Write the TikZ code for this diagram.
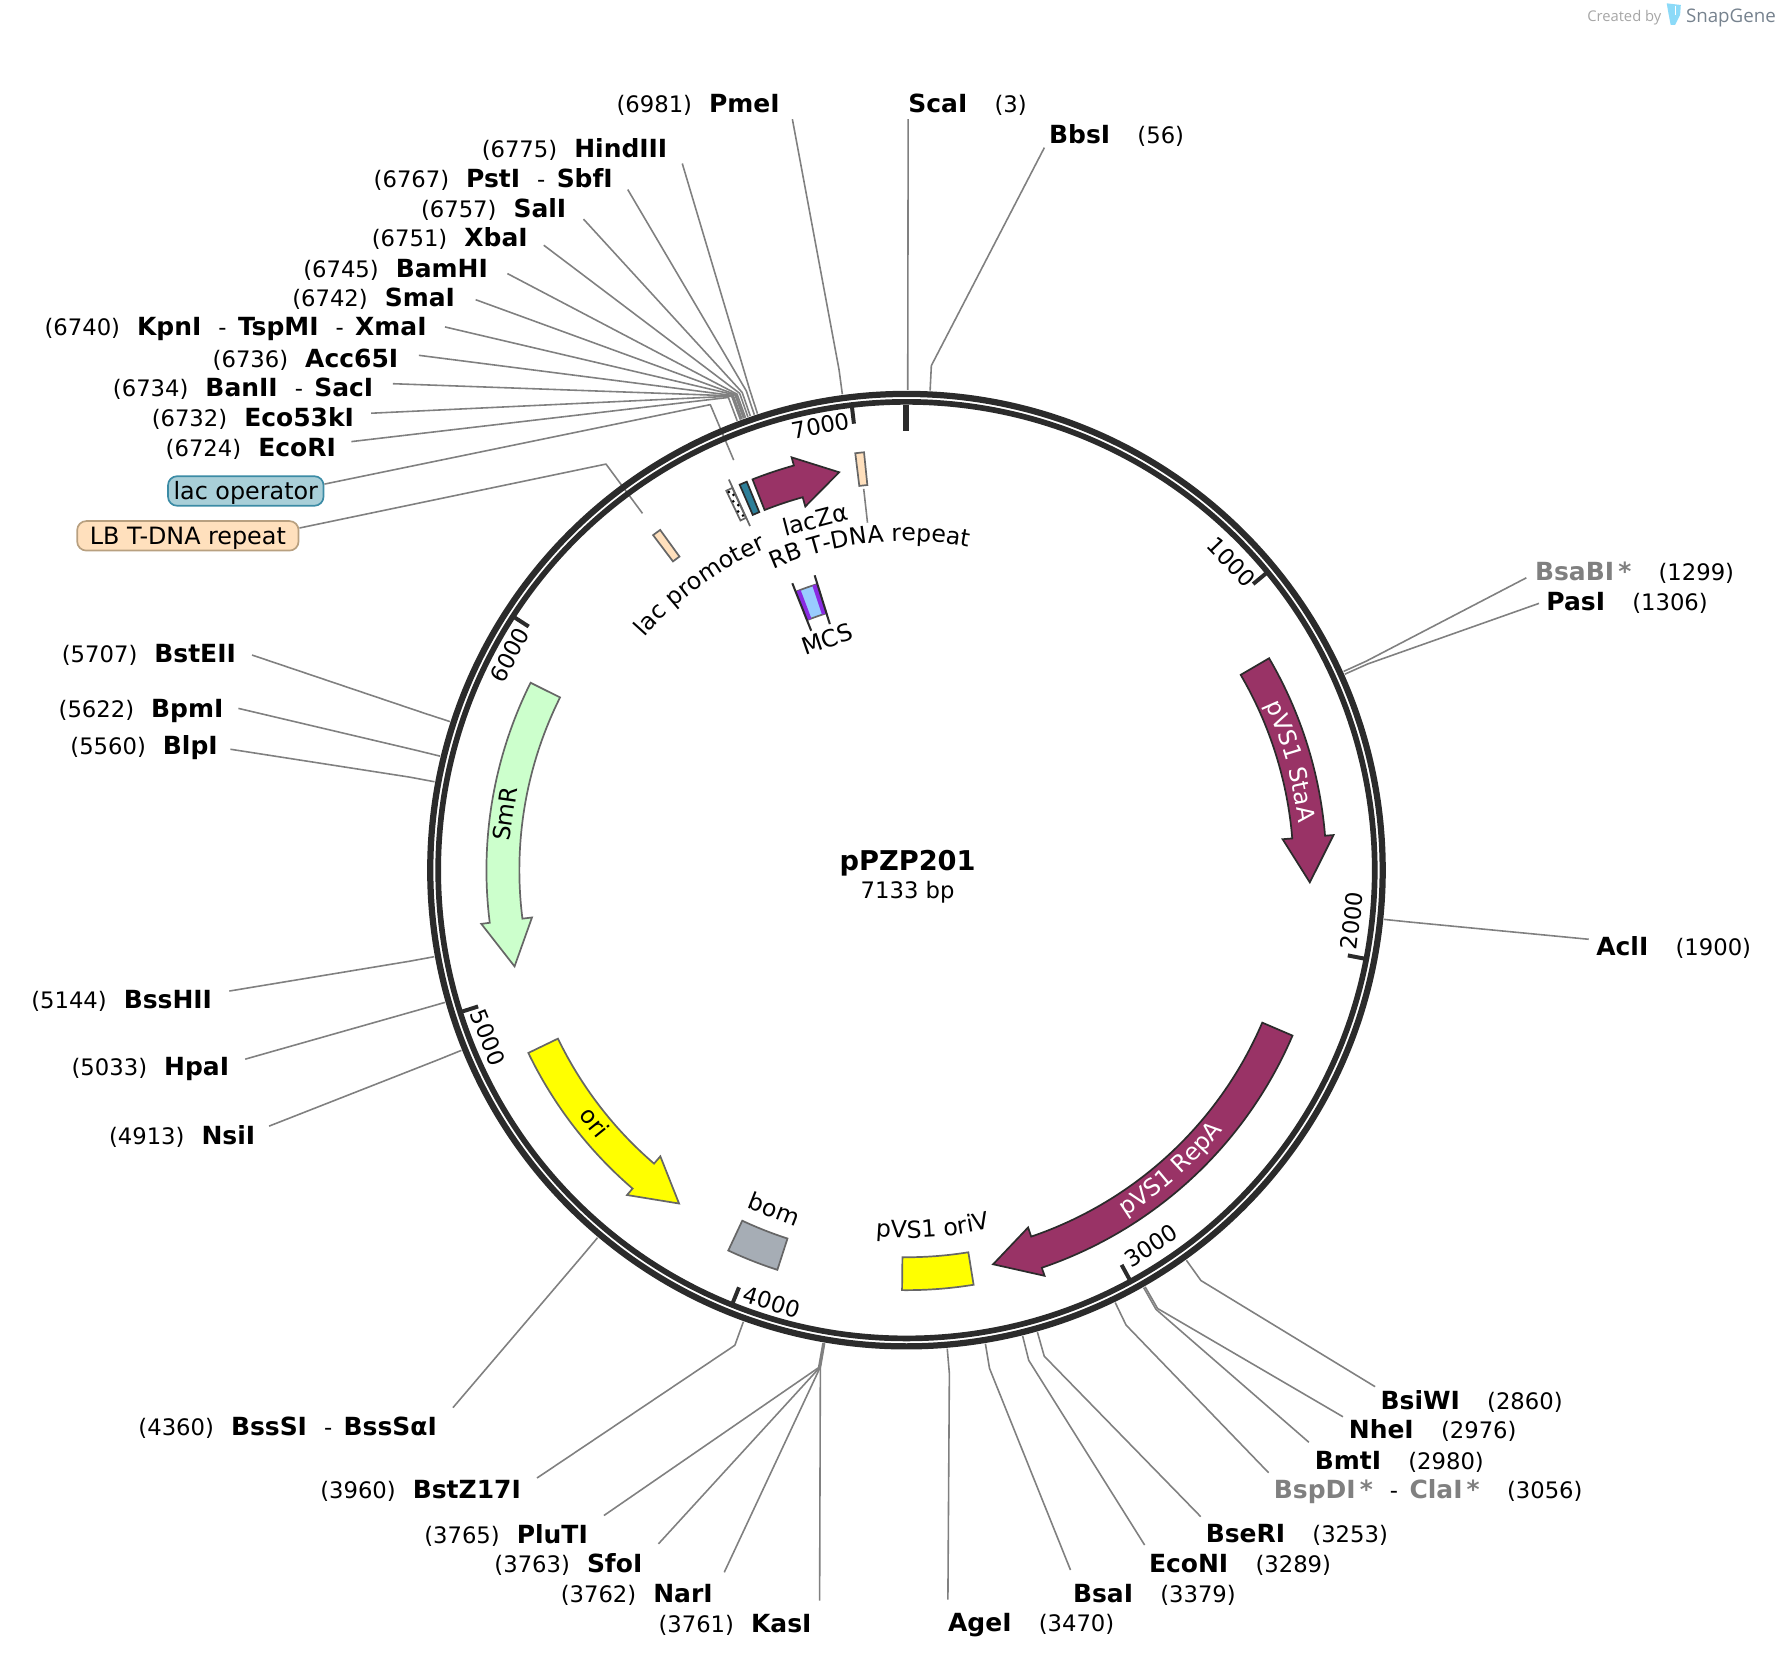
\documentclass[tikz,border=0pt]{standalone}
\usepackage{fontspec}
\setmainfont{DejaVu Sans}
\newfontfamily\logofont{Open Sans}
\usepackage{xcolor}
\usetikzlibrary{calc,decorations.text}

\definecolor{ringdark}{HTML}{2B2B2B}
\definecolor{sitegray}{HTML}{808080}
\definecolor{genepurple}{HTML}{993366}
\definecolor{smgreen}{HTML}{CCFFCC}
\definecolor{oriyellow}{HTML}{FFFF00}
\definecolor{tdnapeach}{HTML}{FFE0BD}
\definecolor{operteal}{HTML}{2D7F99}
\definecolor{operpale}{HTML}{A9CFD8}
\definecolor{operedge}{HTML}{3B8BA5}
\definecolor{tdnaedge}{HTML}{B8A080}
\definecolor{bomgray}{HTML}{A6ADB5}
\definecolor{mcsblue}{HTML}{99CCFF}
\definecolor{mcspurple}{HTML}{8A2BE2}
\definecolor{logoslate}{HTML}{76828E}

\newcommand{\regfont}{\fontsize{20}{24}\selectfont}
\newcommand{\featfont}{\fontsize{20.8}{25}\selectfont}
\newcommand{\boldfont}{\fontsize{22}{26}\selectfont\bfseries}
\newcommand{\hy}{\hspace{15pt}{\mdseries\regfont -}\hspace{10pt}}
\newcommand{\grey}[1]{\textcolor{sitegray}{#1\,*}}

\tikzset{
  sitelabel/.style={inner sep=0pt,font=\regfont,text=black},
  siteline/.style={draw=sitegray,line width=1.4pt,line join=round},
  feat/.style={draw=ringdark,line width=1.5pt,line join=miter},
  featpale/.style={draw=black!60,line width=1.5pt,line join=miter},
  tagbox/.style={rounded corners=8pt,line width=1.5pt,inner sep=0pt,minimum height=26pt,text height=17pt,text depth=2.5pt,font=\fontsize{21}{25}\selectfont},
}

\begin{document}
\begin{tikzpicture}[x=1pt,y=-1pt]
  \useasboundingbox (0,0) rectangle (1568,1462.3);
  \coordinate (hub) at (798.5,766.5);

  % sites on the left, label ends at x
  \foreach \bp/\x/\y/\nm/\dx/\dy in {
    6981/687/91/PmeI/11/14, 6775/588/130/HindIII/13/14, 6767/540/157/PstI\hy SbfI/13/10,
    6757/499/183/SalI/15/10, 6751/465/209/XbaI/14/7, 6745/430/236/BamHI/17/5,
    6742/401/262/SmaI/18/2, 6740/376/288/KpnI\hy TspMI\hy XmaI/16/0, 6736/351/315/Acc65I/18/-2,
    6734/329/341/BanII\hy SacI/17/-3, 6732/312/367/Eco53kI/15/-3, 6724/296/394/EcoRI/13.5/-5,
    5707/208/575/BstEII/14/2, 5622/197/625/BpmI/13/-1, 5560/192/657/BlpI/11/3,
    5144/187/880/BssHII/15/-7, 5033/202/940/HpaI/14/-7, 4913/225/1000/NsiI/12/-8,
    4360/385/1256/BssSI\hy BssSαI/14/-16, 3960/459/1312/BstZ17I/14/-10,
    3765/518/1351/PluTI/14/-16, 3763/566/1377/SfoI/14/-17, 3762/628/1403/NarI/10/-18,
    3761/715/1430/KasI/7/-20} {
    \pgfmathsetmacro{\ang}{\bp/7133*360-90}
    \node[sitelabel,anchor=east] (site\bp) at (\x,\y+1.5) {(\bp)\hspace{15pt}{\boldfont\nm}};
    \coordinate (ring\bp) at ($(hub)+(\ang:423)$);
    \coordinate (bend\bp) at ($(hub)+(\ang:445)$);
    \draw[siteline] ($(site\bp.east)+(\dx,\dy-1.5)$) -- (bend\bp) -- (ring\bp);
  }

  % sites on the right, label starts at x
  \foreach \bp/\x/\y/\nm/\dx/\dy in {
    3/800/91/ScaI/0/14, 56/924/118/BbsI/-4/12, 1299/1352/503/\grey{BsaBI}/-7.5/6,
    1306/1362/530/PasI/-6.3/1.5, 1900/1406/833/AclI/-6.5/-5.6, 2860/1216/1233/BsiWI/-4.7/-11.5,
    2976/1188/1259/NheI/-5/-11, 2980/1158/1286/BmtI/-5/-15.5,
    3056/1122/1312/\grey{BspDI}\hy\grey{ClaI}/-4.5/-14.7,
    3253/1062/1351/BseRI/-4.3/-15, 3289/1012/1377/EcoNI/-3.7/-16,
    3379/945/1403/BsaI/-2/-20, 3470/835/1430/AgeI/0/-21} {
    \pgfmathsetmacro{\ang}{\bp/7133*360-90}
    \node[sitelabel,anchor=west] (site\bp) at (\x,\y+1.5) {{\boldfont\nm}\hspace{24pt}(\bp)};
    \coordinate (ring\bp) at ($(hub)+(\ang:423)$);
    \coordinate (bend\bp) at ($(hub)+(\ang:445)$);
    \draw[siteline] ($(site\bp.west)+(\dx,\dy-1.5)$) -- (bend\bp) -- (ring\bp);
  }

  % feature tags with their leaders
  \node[tagbox,draw=operedge,fill=operpale,minimum width=137pt] (lacop) at (216.5,432.5) {lac operator};
  \node[tagbox,draw=tdnaedge,fill=tdnapeach,minimum width=195pt] (lbrepeat) at (165.5,472) {LB T-DNA repeat};
  \coordinate (lacopbend) at ($(hub)+(-112.85:445)$);
  \coordinate (lacopend) at ($(hub)+(-112.85:392)$);
  \coordinate (lbbend) at ($(hub)+(-126.5:445)$);
  \coordinate (lbend) at ($(hub)+(-126.5:391)$);
  \draw[siteline] (lacop.5) -- (lacopbend) -- (lacopend);
  \draw[siteline] (lbrepeat.4) -- (lbbend) -- (lbend);

  % the two rings
  \draw[ringdark,line width=5.5pt] (hub) circle[radius=419.5pt];
  \draw[ringdark,line width=5pt] (hub) circle[radius=412.5pt];

  \begin{scope}[shift={(hub)},y=1pt]
    % ticks
    \draw[ringdark,line width=5.3pt] (90:410) -- (90:387);
    \foreach \k in {1,...,7} {
      \pgfmathsetmacro{\ang}{90-\k*1000/7133*360}
      \draw[ringdark,line width=3.5pt] (\ang:411) -- (\ang:396);
    }

    % arrows: tail, start of head, tip
    \foreach \a/\h/\t/\c/\s in {
      30.3/4.7/-1.74/genepurple/feat, -23.2/-71.2/-77.6/genepurple/feat,
      111.5/105.55/99.6/genepurple/feat, 205.8/229.3/235.7/oriyellow/featpale,
      153.5/187.2/193.8/smgreen/featpale} {
      \draw[\s,fill=\c] (\a:370) arc[start angle=\a,end angle=\h,radius=370pt]
        -- (\h:377.5) -- (\t:355.5) -- (\h:332.5) -- (\h:341)
        arc[start angle=\h,end angle=\a,radius=341pt] -- cycle;
    }

    % plain boxes on the arc
    \foreach \a/\b/\c/\s in {
      -90.6/-80.8/oriyellow/featpale, 244.9/252.1/bomgray/featpale,
      95.8/97/tdnapeach/featpale, 125.9/127.1/tdnapeach/featpale,
      112.35/113.4/operteal/feat, 114.5/115.4/white/featpale} {
      \draw[\s,fill=\c] (\a:341) arc[start angle=\a,end angle=\b,radius=341pt]
        -- (\b:370) arc[start angle=\b,end angle=\a,radius=370pt] -- cycle;
    }

    % lac promoter dots and bar
    \foreach \r/\a in {344/114.75,349/115.15,354/114.75,359/115.15,364/114.75,368/115.15} {
      \fill[black] (\a:\r) circle[radius=1.3pt];
    }
    \draw[featpale] (114.45:333) -- (114.45:378);

    % MCS
    \draw[featpale,fill=mcsblue] (107.4:237) arc[start angle=107.4,end angle=111.6,radius=237pt]
      -- (111.6:264) arc[start angle=111.6,end angle=107.4,radius=264pt] -- cycle;
    \foreach \a/\b in {107.4/108.3,110.7/111.6} {
      \fill[mcspurple] (\a:237) arc[start angle=\a,end angle=\b,radius=237pt]
        -- (\b:264) arc[start angle=\b,end angle=\a,radius=264pt] -- cycle;
    }
    \draw[ringdark,line width=1.8pt] (107.3:227) -- (107.3:272);
    \draw[ringdark,line width=1.8pt] (111.7:227) -- (111.7:272);

    % RB T-DNA repeat leader
    \coordinate (rbtop) at (96.4:338);
    \coordinate (rblow) at (96.4:308);
    \draw[siteline] (rbtop) -- (rblow);

    % short names, turned along the arc
    \foreach \n/\a/\r/\rot/\t in {
      laczname/104.6/319/14.6/lacZα, mcsname/109/215/19/MCS, smrname/172/357/82/SmR,
      oriname/219/353/-51/ori, bomname/248.7/320.4/-21.3/bom} {
      \node[sitelabel,font=\featfont,rotate=\rot] (\n) at (\a:\r) {\t};
    }

    % long names follow the arc
    \path[decorate,decoration={text along path,text align=center,text={|\featfont|RB T-DNA repeat}}]
      (126.5:290) arc[start angle=126.5,end angle=66.5,radius=290pt];
    \path[decorate,decoration={text along path,text align=center,text={|\featfont|lac promoter}}]
      (156:309) arc[start angle=156,end angle=96,radius=309pt];
    \path[decorate,decoration={text along path,text align=center,text={|\featfont\color{white}|pVS1 StaA}}]
      (45.8:348) arc[start angle=45.8,end angle=-14.2,radius=348pt];
    \path[decorate,decoration={text along path,text align=center,text={|\featfont\color{white}|pVS1 RepA}}]
      (-78.5:361) arc[start angle=-78.5,end angle=-18.5,radius=361pt];
    \path[decorate,decoration={text along path,text align=center,text={|\featfont|pVS1 oriV}}]
      (-115.8:324) arc[start angle=-115.8,end angle=-55.8,radius=324pt];
  \end{scope}

  % tick numbers
  \foreach \bp/\x/\y/\rot in {1000/1085/495/-46, 2000/1191/811/83.5, 3000/1014/1097/33, 4000/680/1147/-17,
    5000/430/914/-68, 6000/449/577/61.5, 7000/723/375/11} {
    \node[sitelabel,rotate=\rot] (tick\bp) at (\x,\y) {\bp};
  }

  \node[font=\boldfont\fontsize{24}{28}\selectfont] (plasmid) at (799.5,760) {pPZP201};
  \node[sitelabel] (length) at (799.5,786) {7133 bp};

  % logo
  \node[anchor=west,inner sep=0pt,text=black!35,font=\logofont\fontsize{13}{15}\selectfont] (createdby) at (1398,15.5) {Created by};
  \node[anchor=west,inner sep=0pt,text=logoslate,font=\logofont\fontsize{16.5}{18}\selectfont] (snapgene) at (1485,15.5) {SnapGene};
  \fill[cyan!45] (1468.2,2.9) -- (1480.6,4.4) -- (1480,13.2) -- (1475.5,22) -- (1471.7,22) -- (1469.7,11.7) -- cycle;
  \draw[white,line width=1pt] (1476,5) -- (1476,13);
\end{tikzpicture}
\end{document}
